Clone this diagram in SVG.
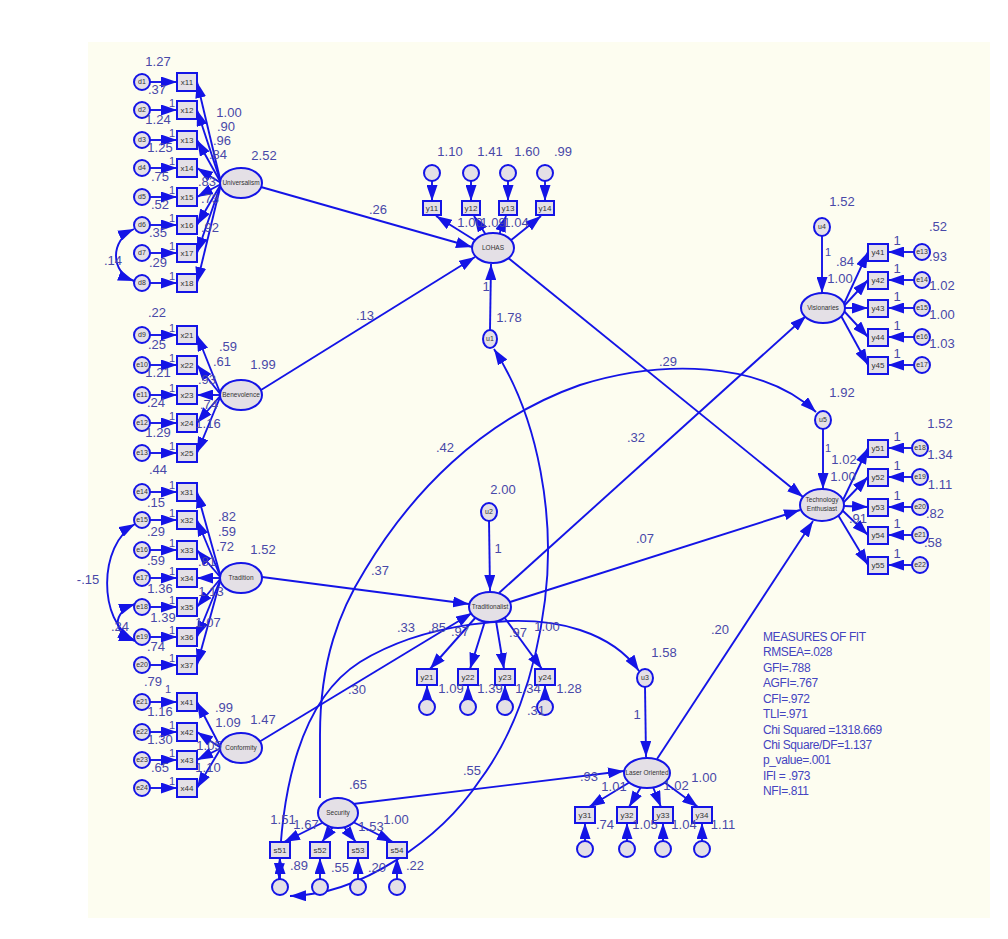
<svg xmlns="http://www.w3.org/2000/svg" width="1008" height="939" viewBox="0 0 1008 939">
<defs>
<marker id="a" viewBox="0 0 16 11" refX="16" refY="5.5" markerWidth="16" markerHeight="11" markerUnits="userSpaceOnUse" orient="auto"><path d="M0,0L16,5.5L0,11z" fill="#1414e6"/></marker>
<marker id="as" viewBox="0 0 16 11" refX="16" refY="5.5" markerWidth="16" markerHeight="11" markerUnits="userSpaceOnUse" orient="auto-start-reverse"><path d="M0,0L16,5.5L0,11z" fill="#1414e6"/></marker>
<style>
.ln{fill:none;stroke:#1414e6;stroke-width:1.9}
.ar{marker-end:url(#a)}
.dh{marker-start:url(#as);marker-end:url(#a)}
.lat{fill:#e4e0e6;stroke:#1414e6;stroke-width:2}
.box{fill:#e4e0e6;stroke:#1414e6;stroke-width:2}
.err{fill:#e4e0e6;stroke:#1414e6;stroke-width:2}
.n{font-family:"Liberation Sans",Arial,sans-serif;font-size:13px;fill:#4848a8;text-anchor:middle}
.o{font-family:"Liberation Sans",Arial,sans-serif;font-size:11px;fill:#4848a8;text-anchor:middle}
.lb{font-family:"Liberation Sans",Arial,sans-serif;font-size:8px;fill:#333;text-anchor:middle}
.ll{font-family:"Liberation Sans",Arial,sans-serif;font-size:6.5px;fill:#333;text-anchor:middle}
.el{font-family:"Liberation Sans",Arial,sans-serif;font-size:7px;fill:#333;text-anchor:middle}
.fit{font-family:"Liberation Sans",Arial,sans-serif;font-size:12px;fill:#4444c0;letter-spacing:-0.4px}
</style>
</defs>
<rect x="0" y="0" width="1008" height="939" fill="#ffffff"/>
<rect x="88" y="42" width="902" height="876" fill="#fdfdf0"/>

<g id="connectors">
<path class="ln ar" d="M150,82L177,82"/><path class="ln ar" d="M150,110L177,110"/><path class="ln ar" d="M150,140L177,140"/><path class="ln ar" d="M150,168L177,168"/><path class="ln ar" d="M150,197L177,197"/><path class="ln ar" d="M150,225L177,225"/><path class="ln ar" d="M150,253L177,253"/><path class="ln ar" d="M150,283L177,283"/>
<path class="ln ar" d="M221,183L197,82"/><path class="ln ar" d="M221,183L197,110"/><path class="ln ar" d="M221,183L197,140"/><path class="ln ar" d="M221,183L197,168"/><path class="ln ar" d="M221,184L197,197"/><path class="ln ar" d="M221,184L197,225"/><path class="ln ar" d="M221,184L197,253"/><path class="ln ar" d="M221,184L197,283"/>
<path class="ln dh" d="M134,229C110,240 110,272 134,281"/>
<path class="ln ar" d="M150,335L177,335"/><path class="ln ar" d="M150,365L177,365"/><path class="ln ar" d="M150,395L177,395"/><path class="ln ar" d="M150,423L177,423"/><path class="ln ar" d="M150,453L177,453"/>
<path class="ln ar" d="M221,395L197,335"/><path class="ln ar" d="M221,395L197,365"/><path class="ln ar" d="M221,395L197,395"/><path class="ln ar" d="M221,395L197,423"/><path class="ln ar" d="M221,395L197,453"/>
<path class="ln ar" d="M150,492L177,492"/><path class="ln ar" d="M150,520L177,520"/><path class="ln ar" d="M150,550L177,550"/><path class="ln ar" d="M150,578L177,578"/><path class="ln ar" d="M150,607L177,607"/><path class="ln ar" d="M150,637L177,637"/><path class="ln ar" d="M150,665L177,665"/>
<path class="ln ar" d="M221,578L197,492"/><path class="ln ar" d="M221,578L197,520"/><path class="ln ar" d="M221,578L197,550"/><path class="ln ar" d="M221,578L197,578"/><path class="ln ar" d="M221,578L197,607"/><path class="ln ar" d="M221,578L197,637"/><path class="ln ar" d="M221,578L197,665"/>
<path class="ln dh" d="M135,524C98,545 98,622 134,640"/>
<path class="ln dh" d="M135,604C112,612 112,633 135,641"/>
<path class="ln ar" d="M150,702L177,702"/><path class="ln ar" d="M150,732L177,732"/><path class="ln ar" d="M150,760L177,760"/><path class="ln ar" d="M150,788L177,788"/>
<path class="ln ar" d="M221,748L197,702"/><path class="ln ar" d="M221,748L197,732"/><path class="ln ar" d="M221,748L197,760"/><path class="ln ar" d="M221,748L197,788"/>
<path class="ln ar" d="M432,181L432,201"/><path class="ln ar" d="M471,181L471,201"/><path class="ln ar" d="M508,181L508,201"/><path class="ln ar" d="M545,181L545,201"/>
<path class="ln ar" d="M476,241L436,216"/><path class="ln ar" d="M486,235L474,216"/><path class="ln ar" d="M499,235L506,216"/><path class="ln ar" d="M510,241L541,216"/>
<path class="ln ar" d="M914,252L888,252"/><path class="ln ar" d="M914,280L888,280"/><path class="ln ar" d="M914,308L888,308"/><path class="ln ar" d="M914,337L888,337"/><path class="ln ar" d="M914,365L888,365"/>
<path class="ln ar" d="M843,306L868,252"/><path class="ln ar" d="M843,307L868,280"/><path class="ln ar" d="M845,308L868,308"/><path class="ln ar" d="M843,310L868,337"/><path class="ln ar" d="M840,314L868,365"/>
<path class="ln ar" d="M912,448L888,448"/><path class="ln ar" d="M912,477L888,477"/><path class="ln ar" d="M912,507L888,507"/><path class="ln ar" d="M912,535L888,535"/><path class="ln ar" d="M912,565L888,565"/>
<path class="ln ar" d="M842,502L868,448"/><path class="ln ar" d="M843,503L868,477"/><path class="ln ar" d="M844,506L868,507"/><path class="ln ar" d="M842,510L868,535"/><path class="ln ar" d="M838,515L868,565"/>
<path class="ln ar" d="M427,699L427,685"/><path class="ln ar" d="M468,699L468,685"/><path class="ln ar" d="M505,699L505,685"/><path class="ln ar" d="M545,699L545,685"/>
<path class="ln ar" d="M476,617L430,669"/><path class="ln ar" d="M485,621L470,669"/><path class="ln ar" d="M496,621L504,669"/><path class="ln ar" d="M504,617L542,669"/>
<path class="ln ar" d="M585,841L585,823"/><path class="ln ar" d="M627,841L627,823"/><path class="ln ar" d="M663,841L663,823"/><path class="ln ar" d="M702,841L702,823"/>
<path class="ln ar" d="M630,782L589,807"/><path class="ln ar" d="M641,787L629,807"/><path class="ln ar" d="M653,787L661,807"/><path class="ln ar" d="M664,782L698,807"/>
<path class="ln ar" d="M280,879L280,858"/><path class="ln ar" d="M320,879L320,858"/><path class="ln ar" d="M358,879L358,858"/><path class="ln ar" d="M397,879L397,858"/>
<path class="ln ar" d="M324,822L284,842"/><path class="ln ar" d="M333,827L322,842"/><path class="ln ar" d="M344,827L356,842"/><path class="ln ar" d="M353,822L393,842"/>
<path class="ln ar" d="M261,187L472,247"/>
<path class="ln ar" d="M261,390L475,257"/>
<path class="ln ar" d="M490,330L491,264"/>
<path class="ln ar" d="M507,257L803,497"/>
<path class="ln ar" d="M262,577L469,604"/>
<path class="ln ar" d="M259,742L472,613"/>
<path class="ln ar" d="M489,520L490,591"/>
<path class="ln ar" d="M499,593L806,316"/>
<path class="ln ar" d="M510,602L800,510"/>
<path class="ln ar" d="M645,686L646,757"/>
<path class="ln ar" d="M657,759L813,521"/>
<path class="ln ar" d="M353,804L624,771"/>
<path class="ln ar" d="M822,235L822,293"/>
<path class="ln ar" d="M823,428L823,489"/>
<path class="ln ar" d="M320,798L320,735C320,660 340,610 365,570C410,495 480,420 580,385C660,360 760,360 816,412"/>
<path class="ln dh" d="M279,879C281,790 300,700 360,662C420,625 520,610 580,630C610,640 628,655 639,671"/>
<path class="ln dh" d="M494,349C540,420 555,520 545,600C535,680 510,740 480,780C440,840 360,895 290,896"/>
</g>

<g id="universalism"><ellipse class="lat" cx="241" cy="183" rx="21" ry="15"/><text class="ll" x="241" y="185">Universalism</text></g>
<g id="x11"><rect class="box" x="177" y="73" width="20" height="18"/><text class="lb" x="187" y="85">x11</text></g>
<g id="x12"><rect class="box" x="177" y="101" width="20" height="18"/><text class="lb" x="187" y="113">x12</text></g>
<g id="x13"><rect class="box" x="177" y="131" width="20" height="18"/><text class="lb" x="187" y="143">x13</text></g>
<g id="x14"><rect class="box" x="177" y="159" width="20" height="18"/><text class="lb" x="187" y="171">x14</text></g>
<g id="x15"><rect class="box" x="177" y="188" width="20" height="18"/><text class="lb" x="187" y="200">x15</text></g>
<g id="x16"><rect class="box" x="177" y="216" width="20" height="18"/><text class="lb" x="187" y="228">x16</text></g>
<g id="x17"><rect class="box" x="177" y="244" width="20" height="18"/><text class="lb" x="187" y="256">x17</text></g>
<g id="x18"><rect class="box" x="177" y="274" width="20" height="18"/><text class="lb" x="187" y="286">x18</text></g>
<g id="d1"><circle class="err" cx="142" cy="82" r="8"/><text class="el" x="142" y="84">d1</text></g>
<g id="d2"><circle class="err" cx="142" cy="110" r="8"/><text class="el" x="142" y="112">d2</text></g>
<g id="d3"><circle class="err" cx="142" cy="140" r="8"/><text class="el" x="142" y="142">d3</text></g>
<g id="d4"><circle class="err" cx="142" cy="168" r="8"/><text class="el" x="142" y="170">d4</text></g>
<g id="d5"><circle class="err" cx="142" cy="197" r="8"/><text class="el" x="142" y="199">d5</text></g>
<g id="d6"><circle class="err" cx="142" cy="225" r="8"/><text class="el" x="142" y="227">d6</text></g>
<g id="d7"><circle class="err" cx="142" cy="253" r="8"/><text class="el" x="142" y="255">d7</text></g>
<g id="d8"><circle class="err" cx="142" cy="283" r="8"/><text class="el" x="142" y="285">d8</text></g>

<g id="benevolence"><ellipse class="lat" cx="241" cy="395" rx="21" ry="15"/><text class="ll" x="241" y="397">Benevolence</text></g>
<g id="x21"><rect class="box" x="177" y="326" width="20" height="18"/><text class="lb" x="187" y="338">x21</text></g>
<g id="x22"><rect class="box" x="177" y="356" width="20" height="18"/><text class="lb" x="187" y="368">x22</text></g>
<g id="x23"><rect class="box" x="177" y="386" width="20" height="18"/><text class="lb" x="187" y="398">x23</text></g>
<g id="x24"><rect class="box" x="177" y="414" width="20" height="18"/><text class="lb" x="187" y="426">x24</text></g>
<g id="x25"><rect class="box" x="177" y="444" width="20" height="18"/><text class="lb" x="187" y="456">x25</text></g>
<g id="d9"><circle class="err" cx="142" cy="335" r="8"/><text class="el" x="142" y="337">d9</text></g>
<g id="e10"><circle class="err" cx="142" cy="365" r="8"/><text class="el" x="142" y="367">e10</text></g>
<g id="e11"><circle class="err" cx="142" cy="395" r="8"/><text class="el" x="142" y="397">e11</text></g>
<g id="e12"><circle class="err" cx="142" cy="423" r="8"/><text class="el" x="142" y="425">e12</text></g>
<g id="e13"><circle class="err" cx="142" cy="453" r="8"/><text class="el" x="142" y="455">e13</text></g>

<g id="tradition"><ellipse class="lat" cx="241" cy="578" rx="21" ry="15"/><text class="ll" x="241" y="580">Tradition</text></g>
<g id="x31"><rect class="box" x="177" y="483" width="20" height="18"/><text class="lb" x="187" y="495">x31</text></g>
<g id="x32"><rect class="box" x="177" y="511" width="20" height="18"/><text class="lb" x="187" y="523">x32</text></g>
<g id="x33"><rect class="box" x="177" y="541" width="20" height="18"/><text class="lb" x="187" y="553">x33</text></g>
<g id="x34"><rect class="box" x="177" y="569" width="20" height="18"/><text class="lb" x="187" y="581">x34</text></g>
<g id="x35"><rect class="box" x="177" y="598" width="20" height="18"/><text class="lb" x="187" y="610">x35</text></g>
<g id="x36"><rect class="box" x="177" y="628" width="20" height="18"/><text class="lb" x="187" y="640">x36</text></g>
<g id="x37"><rect class="box" x="177" y="656" width="20" height="18"/><text class="lb" x="187" y="668">x37</text></g>
<g id="e14"><circle class="err" cx="142" cy="492" r="8"/><text class="el" x="142" y="494">e14</text></g>
<g id="e15"><circle class="err" cx="142" cy="520" r="8"/><text class="el" x="142" y="522">e15</text></g>
<g id="e16"><circle class="err" cx="142" cy="550" r="8"/><text class="el" x="142" y="552">e16</text></g>
<g id="e17"><circle class="err" cx="142" cy="578" r="8"/><text class="el" x="142" y="580">e17</text></g>
<g id="e18"><circle class="err" cx="142" cy="607" r="8"/><text class="el" x="142" y="609">e18</text></g>
<g id="e19"><circle class="err" cx="142" cy="637" r="8"/><text class="el" x="142" y="639">e19</text></g>
<g id="e20"><circle class="err" cx="142" cy="665" r="8"/><text class="el" x="142" y="667">e20</text></g>

<g id="conformity"><ellipse class="lat" cx="241" cy="748" rx="21" ry="15"/><text class="ll" x="241" y="750">Conformity</text></g>
<g id="x41"><rect class="box" x="177" y="693" width="20" height="18"/><text class="lb" x="187" y="705">x41</text></g>
<g id="x42"><rect class="box" x="177" y="723" width="20" height="18"/><text class="lb" x="187" y="735">x42</text></g>
<g id="x43"><rect class="box" x="177" y="751" width="20" height="18"/><text class="lb" x="187" y="763">x43</text></g>
<g id="x44"><rect class="box" x="177" y="779" width="20" height="18"/><text class="lb" x="187" y="791">x44</text></g>
<g id="e21"><circle class="err" cx="142" cy="702" r="8"/><text class="el" x="142" y="704">e21</text></g>
<g id="e22"><circle class="err" cx="142" cy="732" r="8"/><text class="el" x="142" y="734">e22</text></g>
<g id="e23"><circle class="err" cx="142" cy="760" r="8"/><text class="el" x="142" y="762">e23</text></g>
<g id="e24"><circle class="err" cx="142" cy="788" r="8"/><text class="el" x="142" y="790">e24</text></g>

<g id="lohas"><ellipse class="lat" cx="493" cy="248" rx="21" ry="15"/><text class="ll" x="493" y="250">LOHAS</text></g>
<g id="y11"><rect class="box" x="423" y="201" width="18" height="14"/><text class="lb" x="432" y="211">y11</text></g>
<g id="y12"><rect class="box" x="462" y="201" width="18" height="14"/><text class="lb" x="471" y="211">y12</text></g>
<g id="y13"><rect class="box" x="499" y="201" width="18" height="14"/><text class="lb" x="508" y="211">y13</text></g>
<g id="y14"><rect class="box" x="536" y="201" width="18" height="14"/><text class="lb" x="545" y="211">y14</text></g>
<g id="ey11"><circle class="err" cx="432" cy="173" r="8"/></g>
<g id="ey12"><circle class="err" cx="471" cy="173" r="8"/></g>
<g id="ey13"><circle class="err" cx="508" cy="173" r="8"/></g>
<g id="ey14"><circle class="err" cx="545" cy="173" r="8"/></g>
<g id="u1"><ellipse class="err" cx="490" cy="339" rx="7" ry="9"/><text class="el" x="490" y="341">u1</text></g>

<g id="visionaries"><ellipse class="lat" cx="823" cy="308" rx="22" ry="15"/><text class="ll" x="823" y="310">Visionaries</text></g>
<g id="u4"><ellipse class="err" cx="822" cy="227" rx="8" ry="9"/><text class="el" x="822" y="229">u4</text></g>
<g id="y41"><rect class="box" x="868" y="244" width="20" height="17"/><text class="lb" x="878" y="255">y41</text></g>
<g id="y42"><rect class="box" x="868" y="272" width="20" height="17"/><text class="lb" x="878" y="283">y42</text></g>
<g id="y43"><rect class="box" x="868" y="300" width="20" height="17"/><text class="lb" x="878" y="311">y43</text></g>
<g id="y44"><rect class="box" x="868" y="329" width="20" height="17"/><text class="lb" x="878" y="340">y44</text></g>
<g id="y45"><rect class="box" x="868" y="357" width="20" height="17"/><text class="lb" x="878" y="368">y45</text></g>
<g id="ve13"><circle class="err" cx="922" cy="252" r="8"/><text class="el" x="922" y="254">e13</text></g>
<g id="ve14"><circle class="err" cx="922" cy="280" r="8"/><text class="el" x="922" y="282">e14</text></g>
<g id="ve15"><circle class="err" cx="922" cy="308" r="8"/><text class="el" x="922" y="310">e15</text></g>
<g id="ve16"><circle class="err" cx="922" cy="337" r="8"/><text class="el" x="922" y="339">e16</text></g>
<g id="ve17"><circle class="err" cx="922" cy="365" r="8"/><text class="el" x="922" y="367">e17</text></g>

<g id="techenthusiast"><ellipse class="lat" cx="822" cy="505" rx="22" ry="16"/><text class="ll" x="822" y="502">Technology</text><text class="ll" x="822" y="511">Enthusiast</text></g>
<g id="u5"><ellipse class="err" cx="823" cy="420" rx="8" ry="9"/><text class="el" x="823" y="422">u5</text></g>
<g id="y51"><rect class="box" x="868" y="440" width="20" height="17"/><text class="lb" x="878" y="451">y51</text></g>
<g id="y52"><rect class="box" x="868" y="469" width="20" height="17"/><text class="lb" x="878" y="480">y52</text></g>
<g id="y53"><rect class="box" x="868" y="499" width="20" height="17"/><text class="lb" x="878" y="510">y53</text></g>
<g id="y54"><rect class="box" x="868" y="527" width="20" height="17"/><text class="lb" x="878" y="538">y54</text></g>
<g id="y55"><rect class="box" x="868" y="557" width="20" height="17"/><text class="lb" x="878" y="568">y55</text></g>
<g id="te18"><circle class="err" cx="920" cy="448" r="8"/><text class="el" x="920" y="450">e18</text></g>
<g id="te19"><circle class="err" cx="920" cy="477" r="8"/><text class="el" x="920" y="479">e19</text></g>
<g id="te20"><circle class="err" cx="920" cy="507" r="8"/><text class="el" x="920" y="509">e20</text></g>
<g id="te21"><circle class="err" cx="920" cy="535" r="8"/><text class="el" x="920" y="537">e21</text></g>
<g id="te22"><circle class="err" cx="920" cy="565" r="8"/><text class="el" x="920" y="567">e22</text></g>

<g id="traditionalist"><ellipse class="lat" cx="490" cy="607" rx="21" ry="15"/><text class="ll" x="490" y="609">Traditionalist</text></g>
<g id="u2"><ellipse class="err" cx="489" cy="512" rx="8" ry="9"/><text class="el" x="489" y="514">u2</text></g>
<g id="y21"><rect class="box" x="417" y="669" width="20" height="16"/><text class="lb" x="427" y="680">y21</text></g>
<g id="y22"><rect class="box" x="458" y="669" width="20" height="16"/><text class="lb" x="468" y="680">y22</text></g>
<g id="y23"><rect class="box" x="495" y="669" width="20" height="16"/><text class="lb" x="505" y="680">y23</text></g>
<g id="y24"><rect class="box" x="535" y="669" width="20" height="16"/><text class="lb" x="545" y="680">y24</text></g>
<g id="ey21"><circle class="err" cx="427" cy="707" r="8"/></g>
<g id="ey22"><circle class="err" cx="468" cy="707" r="8"/></g>
<g id="ey23"><circle class="err" cx="505" cy="707" r="8"/></g>
<g id="ey24"><circle class="err" cx="545" cy="707" r="8"/></g>

<g id="laseroriented"><ellipse class="lat" cx="647" cy="773" rx="23" ry="15"/><text class="ll" x="647" y="775">Laser Oriented</text></g>
<g id="u3"><ellipse class="err" cx="645" cy="678" rx="8" ry="9"/><text class="el" x="645" y="680">u3</text></g>
<g id="y31"><rect class="box" x="575" y="807" width="20" height="16"/><text class="lb" x="585" y="818">y31</text></g>
<g id="y32"><rect class="box" x="617" y="807" width="20" height="16"/><text class="lb" x="627" y="818">y32</text></g>
<g id="y33"><rect class="box" x="653" y="807" width="20" height="16"/><text class="lb" x="663" y="818">y33</text></g>
<g id="y34"><rect class="box" x="692" y="807" width="20" height="16"/><text class="lb" x="702" y="818">y34</text></g>
<g id="ey31"><circle class="err" cx="585" cy="849" r="8"/></g>
<g id="ey32"><circle class="err" cx="627" cy="849" r="8"/></g>
<g id="ey33"><circle class="err" cx="663" cy="849" r="8"/></g>
<g id="ey34"><circle class="err" cx="702" cy="849" r="8"/></g>

<g id="security"><ellipse class="lat" cx="338" cy="813" rx="20" ry="15"/><text class="ll" x="338" y="815">Security</text></g>
<g id="s51"><rect class="box" x="270" y="842" width="20" height="16"/><text class="lb" x="280" y="853">s51</text></g>
<g id="s52"><rect class="box" x="310" y="842" width="20" height="16"/><text class="lb" x="320" y="853">s52</text></g>
<g id="s53"><rect class="box" x="348" y="842" width="20" height="16"/><text class="lb" x="358" y="853">s53</text></g>
<g id="s54"><rect class="box" x="387" y="842" width="20" height="16"/><text class="lb" x="397" y="853">s54</text></g>
<g id="es51"><circle class="err" cx="280" cy="887" r="8"/></g>
<g id="es52"><circle class="err" cx="320" cy="887" r="8"/></g>
<g id="es53"><circle class="err" cx="358" cy="887" r="8"/></g>
<g id="es54"><circle class="err" cx="397" cy="887" r="8"/></g>

<g id="estimates">
<text class="n" x="158" y="66">1.27</text><text class="n" x="157" y="94">.37</text><text class="n" x="158" y="124">1.24</text><text class="n" x="160" y="152">1.25</text><text class="n" x="160" y="181">.75</text><text class="n" x="160" y="209">.52</text><text class="n" x="158" y="237">.35</text><text class="n" x="158" y="267">.29</text>
<text class="o" x="172" y="107">1</text><text class="o" x="172" y="137">1</text><text class="o" x="172" y="165">1</text><text class="o" x="172" y="194">1</text><text class="o" x="172" y="222">1</text><text class="o" x="172" y="250">1</text><text class="o" x="172" y="280">1</text>
<text class="n" x="229" y="117">1.00</text><text class="n" x="226" y="131">.90</text><text class="n" x="222" y="145">.96</text><text class="n" x="218" y="159">.84</text><text class="n" x="207" y="186">.83</text><text class="n" x="210" y="203">.73</text><text class="n" x="210" y="232">.92</text>
<text class="n" x="264" y="160">2.52</text><text class="n" x="113" y="265">.14</text>
<text class="n" x="157" y="317">.22</text><text class="n" x="157" y="349">.25</text><text class="n" x="158" y="377">1.21</text><text class="n" x="156" y="407">.24</text><text class="n" x="158" y="437">1.29</text>
<text class="o" x="172" y="332">1</text><text class="o" x="172" y="362">1</text><text class="o" x="172" y="392">1</text><text class="o" x="172" y="420">1</text><text class="o" x="172" y="450">1</text>
<text class="n" x="228" y="351">.59</text><text class="n" x="222" y="366">.61</text><text class="n" x="207" y="384">.93</text><text class="n" x="209" y="409">.74</text><text class="n" x="208" y="428">1.16</text>
<text class="n" x="263" y="369">1.99</text>
<text class="n" x="158" y="474">.44</text><text class="n" x="156" y="507">.15</text><text class="n" x="156" y="536">.29</text><text class="n" x="156" y="565">.59</text><text class="n" x="160" y="593">1.36</text><text class="n" x="163" y="622">1.39</text><text class="n" x="156" y="651">.74</text>
<text class="o" x="172" y="489">1</text><text class="o" x="172" y="517">1</text><text class="o" x="172" y="547">1</text><text class="o" x="172" y="575">1</text><text class="o" x="172" y="604">1</text><text class="o" x="172" y="634">1</text><text class="o" x="172" y="662">1</text>
<text class="n" x="227" y="521">.82</text><text class="n" x="227" y="536">.59</text><text class="n" x="225" y="551">.72</text><text class="n" x="207" y="566">.81</text><text class="n" x="211" y="596">1.13</text><text class="n" x="208" y="627">1.07</text>
<text class="n" x="263" y="554">1.52</text><text class="n" x="88" y="584">-.15</text><text class="n" x="120" y="631">.24</text>
<text class="n" x="153" y="686">.79</text><text class="n" x="160" y="716">1.16</text><text class="n" x="160" y="744">1.30</text><text class="n" x="160" y="772">.65</text>
<text class="o" x="168" y="693">1</text><text class="o" x="172" y="729">1</text><text class="o" x="172" y="757">1</text><text class="o" x="172" y="785">1</text>
<text class="n" x="224" y="712">.99</text><text class="n" x="228" y="727">1.09</text><text class="n" x="209" y="750">1.05</text><text class="n" x="208" y="772">1.10</text>
<text class="n" x="263" y="724">1.47</text>
<text class="n" x="450" y="156">1.10</text><text class="n" x="490" y="156">1.41</text><text class="n" x="527" y="156">1.60</text><text class="n" x="563" y="156">.99</text>
<text class="n" x="470" y="227">1.00</text><text class="n" x="493" y="227">1.09</text><text class="n" x="516" y="227">1.04</text>
<text class="n" x="378" y="214">.26</text><text class="n" x="365" y="320">.13</text>
<text class="n" x="486" y="291">1</text><text class="n" x="509" y="322">1.78</text>
<text class="n" x="842" y="206">1.52</text>
<text class="o" x="828" y="256">1</text><text class="n" x="845" y="266">.84</text><text class="n" x="840" y="283">1.00</text>
<text class="n" x="938" y="231">.52</text><text class="n" x="938" y="261">.93</text><text class="n" x="942" y="290">1.02</text><text class="n" x="942" y="319">1.00</text><text class="n" x="942" y="348">1.03</text>
<text class="n" x="897" y="245">1</text><text class="n" x="897" y="273">1</text><text class="n" x="897" y="301">1</text><text class="n" x="897" y="330">1</text><text class="n" x="897" y="358">1</text>
<text class="n" x="842" y="397">1.92</text>
<text class="o" x="828" y="452">1</text><text class="n" x="844" y="464">1.02</text><text class="n" x="843" y="481">1.00</text><text class="n" x="858" y="523">.91</text>
<text class="n" x="940" y="428">1.52</text><text class="n" x="940" y="459">1.34</text><text class="n" x="940" y="489">1.11</text><text class="n" x="935" y="518">.82</text><text class="n" x="933" y="547">.58</text>
<text class="n" x="897" y="441">1</text><text class="n" x="897" y="470">1</text><text class="n" x="897" y="500">1</text><text class="n" x="897" y="528">1</text><text class="n" x="897" y="558">1</text>
<text class="n" x="668" y="366">.29</text><text class="n" x="445" y="452">.42</text><text class="n" x="636" y="442">.32</text><text class="n" x="645" y="543">.07</text>
<text class="n" x="380" y="575">.37</text><text class="n" x="503" y="494">2.00</text><text class="n" x="498" y="553">1</text>
<text class="n" x="406" y="632">.33</text><text class="n" x="357" y="694">.30</text><text class="n" x="536" y="715">.31</text>
<text class="n" x="720" y="634">.20</text>
<text class="n" x="437" y="632">.85</text><text class="n" x="460" y="636">.97</text><text class="n" x="518" y="637">.97</text><text class="n" x="547" y="631">1.00</text>
<text class="n" x="451" y="693">1.09</text><text class="n" x="490" y="693">1.39</text><text class="n" x="528" y="693">1.34</text><text class="n" x="569" y="693">1.28</text>
<text class="n" x="664" y="657">1.58</text><text class="n" x="637" y="719">1</text>
<text class="n" x="589" y="781">.93</text><text class="n" x="614" y="791">1.01</text><text class="n" x="676" y="790">1.02</text><text class="n" x="704" y="782">1.00</text>
<text class="n" x="605" y="829">.74</text><text class="n" x="645" y="829">1.05</text><text class="n" x="684" y="829">1.04</text><text class="n" x="723" y="829">1.11</text>
<text class="n" x="358" y="789">.65</text><text class="n" x="472" y="775">.55</text>
<text class="n" x="283" y="824">1.51</text><text class="n" x="306" y="829">1.67</text><text class="n" x="371" y="831">1.53</text><text class="n" x="396" y="824">1.00</text>
<text class="n" x="299" y="870">.89</text><text class="n" x="340" y="872">.55</text><text class="n" x="377" y="872">.20</text><text class="n" x="415" y="870">.22</text>
</g>

<g id="fit">
<text class="fit" x="763" y="641">MEASURES OF FIT</text>
<text class="fit" x="763" y="656">RMSEA=.028</text>
<text class="fit" x="763" y="672">GFI=.788</text>
<text class="fit" x="763" y="687">AGFI=.767</text>
<text class="fit" x="763" y="703">CFI=.972</text>
<text class="fit" x="763" y="718">TLI=.971</text>
<text class="fit" x="763" y="734">Chi Squared =1318.669</text>
<text class="fit" x="763" y="749">Chi Square/DF=1.137</text>
<text class="fit" x="763" y="764">p_value=.001</text>
<text class="fit" x="763" y="780">IFI = .973</text>
<text class="fit" x="763" y="795">NFI=.811</text>
</g>
</svg>
